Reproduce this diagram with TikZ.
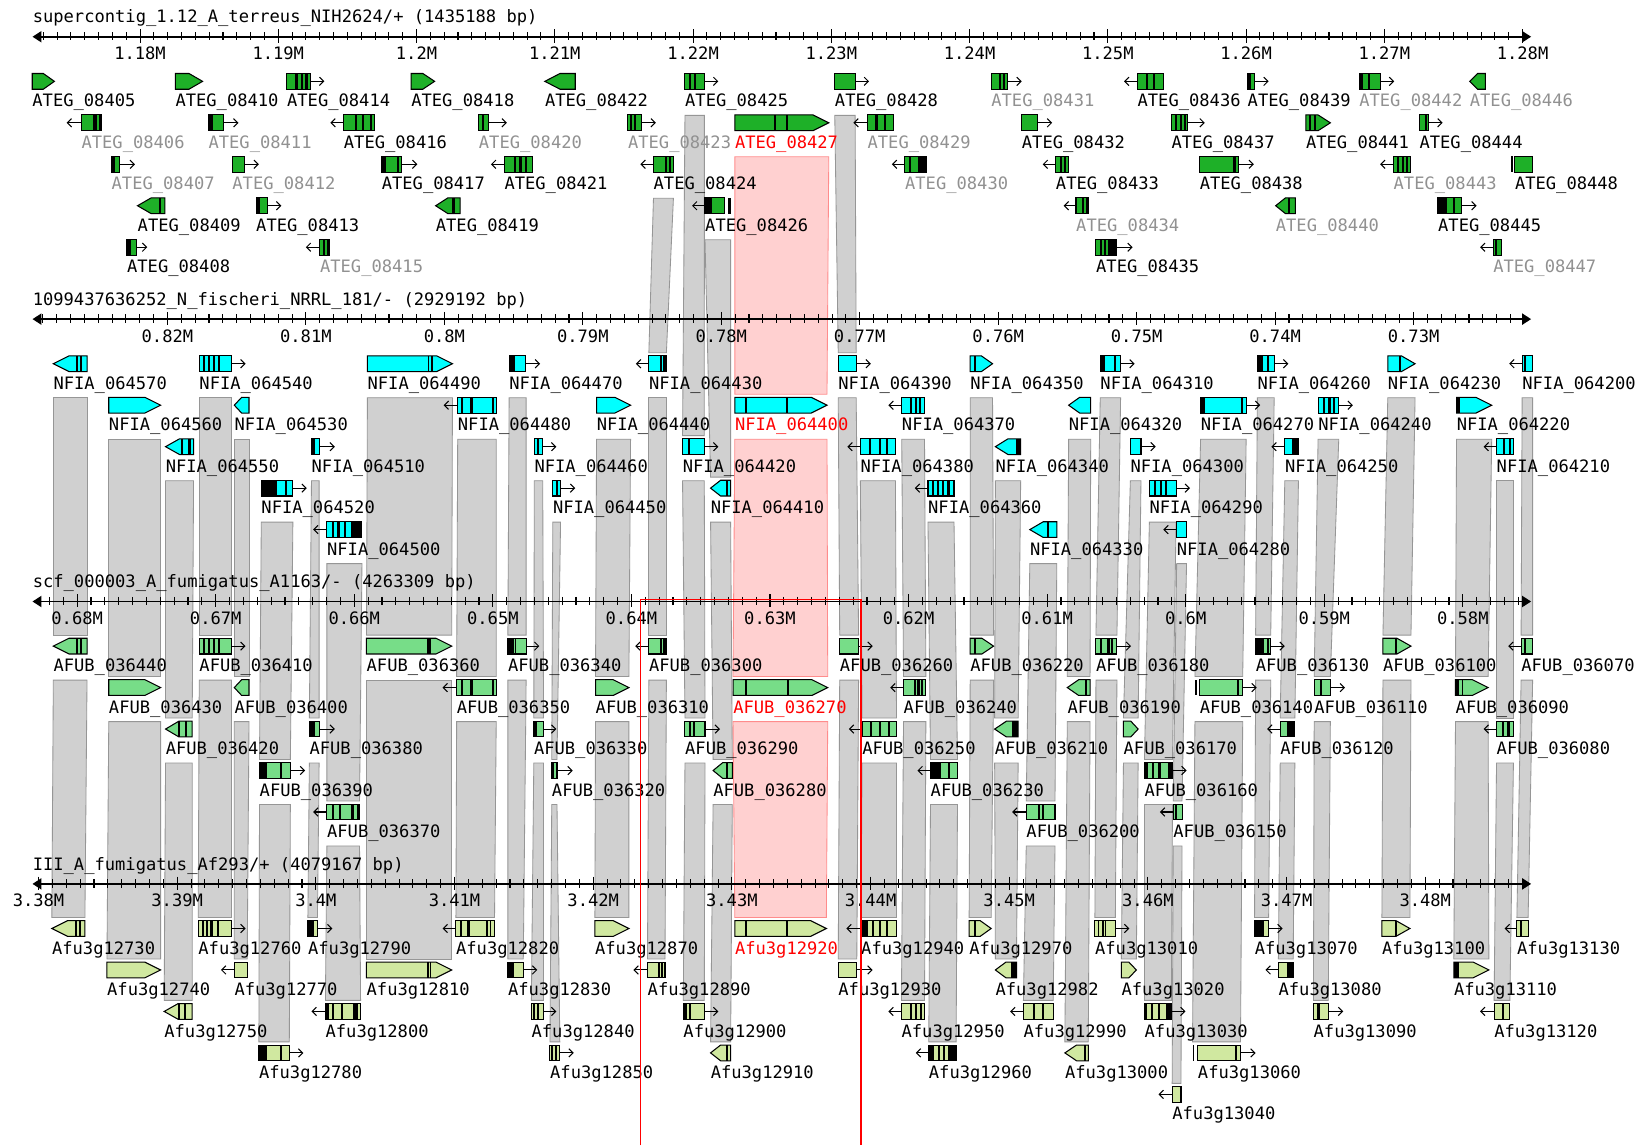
\documentclass[tikz,border=0pt]{standalone}
\usepackage{fontspec}
\setmainfont{DejaVu Sans Mono}
\usetikzlibrary{arrows.meta}
\definecolor{trk0}{RGB}{30,176,40}
\definecolor{trk1}{RGB}{0,255,255}
\definecolor{trk2}{RGB}{119,221,136}
\definecolor{trk3}{RGB}{208,232,160}
\definecolor{bandgray}{RGB}{208,208,208}
\definecolor{bandedge}{RGB}{150,150,150}
\definecolor{pinkf}{RGB}{255,208,208}
\definecolor{pinke}{RGB}{255,140,140}
\definecolor{lblgray}{RGB}{145,145,145}
\tikzset{
  lbl/.style={font=\fontsize{16.3}{18}\selectfont, anchor=base west, inner sep=0pt, text=black},
  lg/.style={text=lblgray},
  lr/.style={text=red},
  ttl/.style={font=\fontsize{16.3}{18}\selectfont, anchor=base west, inner sep=0pt},
  tkl/.style={font=\fontsize{16.3}{18}\selectfont, anchor=base, inner sep=0pt},
  gline/.style={draw=black, line width=1pt},
  garrow/.style={draw=black, line width=1pt, -{Straight Barb[length=4pt,width=8pt]}},
  axisline/.style={draw=black, line width=1.5pt},
  tickline/.style={draw=black, line width=1pt},
  band/.style={fill=bandgray, draw=bandedge, line width=0.8pt},
  pband/.style={fill=pinkf, draw=pinke, line width=0.8pt},
  redbox/.style={draw=red, line width=1.5pt}
}
\newcommand\ggBars[1]{\if\relax\detokenize{#1}\relax\else
  \foreach \ba/\bb in {#1}{\fill[black] (\ba,\gYc-7.5) rectangle (\bb,\gYc+7.5);}\fi}
\newcommand\ggLabel[3]{\node[lbl,#3] (#2) at (#1,\gYc+24.4) {#2};}
% pointed right: t r x1 x2 bars label style
\newcommand\ggR[7]{%
  \pgfmathsetmacro\gYc{77.5+269*#1+39.5*#2}%
  \pgfmathsetmacro\gPc{min(15,(#4-#3)/2)}%
  \fill[trk#1] (#3,\gYc-7.5) -- (#4-\gPc,\gYc-7.5) -- (#4,\gYc) -- (#4-\gPc,\gYc+7.5) -- (#3,\gYc+7.5) -- cycle;
  \ggBars{#5}%
  \draw[gline] (#3,\gYc-7.5) -- (#4-\gPc,\gYc-7.5) -- (#4,\gYc) -- (#4-\gPc,\gYc+7.5) -- (#3,\gYc+7.5) -- cycle;
  \ggLabel{#3}{#6}{#7}}
% pointed left
\newcommand\ggL[7]{%
  \pgfmathsetmacro\gYc{77.5+269*#1+39.5*#2}%
  \pgfmathsetmacro\gPc{min(15,(#4-#3)/2)}%
  \fill[trk#1] (#4,\gYc-7.5) -- (#3+\gPc,\gYc-7.5) -- (#3,\gYc) -- (#3+\gPc,\gYc+7.5) -- (#4,\gYc+7.5) -- cycle;
  \ggBars{#5}%
  \draw[gline] (#4,\gYc-7.5) -- (#3+\gPc,\gYc-7.5) -- (#3,\gYc) -- (#3+\gPc,\gYc+7.5) -- (#4,\gYc+7.5) -- cycle;
  \ggLabel{#3}{#6}{#7}}
% box + arrow right: t r x1 x2 xtip bars label style
\newcommand\ggAR[8]{%
  \pgfmathsetmacro\gYc{77.5+269*#1+39.5*#2}%
  \draw[garrow] (#4,\gYc) -- (#5,\gYc);
  \fill[trk#1] (#3,\gYc-7.5) rectangle (#4,\gYc+7.5);
  \ggBars{#6}%
  \draw[gline] (#3,\gYc-7.5) rectangle (#4,\gYc+7.5);
  \ggLabel{#3}{#7}{#8}}
% arrow left + box: t r xtip x1 x2 bars label style
\newcommand\ggAL[8]{%
  \pgfmathsetmacro\gYc{77.5+269*#1+39.5*#2}%
  \draw[garrow] (#4,\gYc) -- (#3,\gYc);
  \fill[trk#1] (#4,\gYc-7.5) rectangle (#5,\gYc+7.5);
  \ggBars{#6}%
  \draw[gline] (#4,\gYc-7.5) rectangle (#5,\gYc+7.5);
  \ggLabel{#4}{#7}{#8}}
% plain box
\newcommand\ggBX[7]{%
  \pgfmathsetmacro\gYc{77.5+269*#1+39.5*#2}%
  \fill[trk#1] (#3,\gYc-7.5) rectangle (#4,\gYc+7.5);
  \ggBars{#5}%
  \draw[gline] (#3,\gYc-7.5) rectangle (#4,\gYc+7.5);
  \ggLabel{#3}{#6}{#7}}
% band: x1 x2 t r x3 x4 r2
\newcommand\ggBand[7]{%
  \pgfmathsetmacro\bTc{109.9+269*#3+39.5*#4}%
  \pgfmathsetmacro\bBc{67+269*(#3+1)+39.5*#7}%
  \filldraw[band] (#1,\bTc) -- (#2,\bTc) -- (#6,\bBc) -- (#5,\bBc) -- cycle;}
\newcommand\ggPink[7]{%
  \pgfmathsetmacro\bTc{109.9+269*#3+39.5*#4}%
  \pgfmathsetmacro\bBc{67+269*(#3+1)+39.5*#7}%
  \filldraw[pband] (#1,\bTc) -- (#2,\bTc) -- (#6,\bBc) -- (#5,\bBc) -- cycle;}
% ruler: t x0 sp title labels
\newcommand\ggRuler[5]{%
  \pgfmathsetmacro\aYc{35+269*#1}%
  \node[ttl] (title#1) at (31,{21.8+269*#1}) {#4};
  \draw[axisline] (38,\aYc) -- (1451,\aYc);
  \fill (31,\aYc) -- (39.5,\aYc-5.5) -- (39.5,\aYc+5.5) -- cycle;
  \fill (1458.5,\aYc) -- (1450,\aYc-5.5) -- (1450,\aYc+5.5) -- cycle;
  \foreach \j in {-10,...,110}{%
    \pgfmathsetmacro\xx{#2+#3*(\j)/10}%
    \ifdim\xx pt>38pt\relax\ifdim\xx pt<1451pt\relax
      \draw[tickline] (\xx,\aYc-4.5) -- (\xx,\aYc+3.5);
    \fi\fi}
  \foreach \k/\lab in {#5}{%
    \pgfmathsetmacro\xx{#2+#3*\k}%
    \draw[tickline] (\xx,\aYc-7) -- (\xx,\aYc+5.5);
    \node[tkl] (tk#1-\k) at (\xx,\aYc+21.8) {\lab};}
}
\begin{document}
\catcode`\_=12
\begin{tikzpicture}[x=1pt,y=-1pt]
\useasboundingbox (0,0) rectangle (1568,1091);
\fill[white] (0,0) rectangle (1568,1091);

% ---------------- bands track 0 -> 1
\ggBand{622.5}{641.5}{0}{2}{618.1}{634.8}{0}
\ggBand{652.5}{671}{0}{0}{650.2}{670.9}{2}
\ggBand{671.6}{696}{0}{3}{676.9}{696}{3}
\ggBand{795.2}{814.6}{0}{0}{798.5}{815.6}{0}
\ggPink{700}{789.5}{0}{1}{700}{787.8}{1}
% ---------------- bands track 1 -> 2
\ggBand{50.8}{82.9}{1}{0}{50.8}{82.9}{0}
\ggBand{189.8}{220.5}{1}{0}{189.8}{220.5}{0}
\ggBand{350}{431}{1}{0}{349.1}{430.3}{0}
\ggBand{485}{501.2}{1}{0}{483.8}{501.2}{0}
\ggBand{618.1}{634.8}{1}{0}{618.1}{634.8}{0}
\ggBand{798.5}{815.6}{1}{0}{799.9}{817.9}{0}
\ggBand{924.2}{945.5}{1}{0}{924.2}{946.5}{0}
\ggBand{1048.1}{1067.5}{1}{0}{1044}{1064}{0}
\ggBand{1197.8}{1213.8}{1}{0}{1196.1}{1210.5}{0}
\ggBand{1322}{1348}{1}{0}{1317.4}{1344.1}{0}
\ggBand{1450}{1460}{1}{0}{1449}{1460}{0}
\ggBand{103.6}{153}{1}{1}{103.6}{153}{1}
\ggBand{223.2}{237.2}{1}{1}{223.2}{237.2}{1}
\ggBand{436}{472.7}{1}{1}{435}{472.7}{1}
\ggBand{568.3}{600.7}{1}{1}{567.3}{599.1}{1}
\ggPink{700}{787.8}{1}{1}{698.3}{788.5}{1}
\ggBand{859}{880.7}{1}{1}{860.7}{882}{1}
\ggBand{1018}{1039}{1}{1}{1016.7}{1038.4}{1}
\ggBand{1143.7}{1187.1}{1}{1}{1138.3}{1183.8}{1}
\ggBand{1255.6}{1275.3}{1}{1}{1251.9}{1267.3}{1}
\ggBand{1387.5}{1421}{1}{1}{1386.5}{1417.6}{1}
\ggBand{157.7}{184.4}{1}{2}{157.7}{183.1}{2}
\ggBand{296.7}{304}{1}{2}{294.7}{304}{2}
\ggBand{509}{517}{1}{2}{508.5}{517.8}{2}
\ggBand{650.2}{670.9}{1}{2}{652.5}{671.6}{2}
\ggBand{819.6}{853}{1}{2}{821.2}{854}{2}
\ggBand{948.2}{972.3}{1}{2}{947.5}{969.9}{2}
\ggBand{1076.8}{1086.9}{1}{2}{1070.2}{1084.2}{2}
\ggBand{1223.9}{1236.9}{1}{2}{1219.5}{1233.5}{2}
\ggBand{1425.6}{1441.7}{1}{2}{1425.6}{1441.7}{2}
\ggBand{248.9}{279}{1}{3}{247.2}{276.6}{3}
\ggBand{526.6}{534}{1}{3}{525.6}{530.6}{3}
\ggBand{676.9}{696}{1}{3}{679.3}{697.6}{3}
\ggBand{884}{908.8}{1}{3}{886.4}{912.1}{3}
\ggBand{1094.9}{1120.3}{1}{3}{1090.2}{1116.9}{3}
\ggBand{311.4}{344.8}{1}{4}{311.4}{342.5}{4}
\ggBand{981}{1006.7}{1}{4}{977.6}{1005}{4}
\ggBand{1120.9}{1130.3}{1}{4}{1117.6}{1126}{4}
% ---------------- bands track 2 -> 3
\ggBand{50.8}{82.9}{2}{0}{49.4}{80.9}{0}
\ggBand{189.8}{220.5}{2}{0}{188.8}{220.5}{0}
\ggBand{349.1}{430.3}{2}{0}{349.1}{430.3}{1}
\ggBand{483.8}{501.2}{2}{0}{483.8}{498.5}{1}
\ggBand{618.1}{634.8}{2}{0}{616.8}{633.5}{1}
\ggBand{799.9}{817.9}{2}{0}{798.5}{816.2}{1}
\ggBand{924.2}{946.5}{2}{0}{923.2}{944.2}{0}
\ggBand{1044}{1064}{2}{0}{1043}{1062.5}{0}
\ggBand{1196.1}{1210.5}{2}{0}{1195.1}{1208.5}{0}
\ggBand{1317.4}{1344.1}{2}{0}{1316.4}{1343.1}{0}
\ggBand{1449}{1460}{2}{0}{1445}{1455.7}{0}
\ggBand{103.6}{153}{2}{1}{101.9}{153}{1}
\ggBand{223.2}{237.2}{2}{1}{223.2}{235.5}{1}
\ggBand{435}{472.7}{2}{1}{434.3}{471.1}{0}
\ggBand{567.3}{599.1}{2}{1}{566.7}{599.1}{0}
\ggPink{698.3}{788.5}{2}{1}{700}{787.2}{0}
\ggBand{860.7}{882}{2}{1}{858.7}{880.7}{2}
\ggBand{1016.7}{1038.4}{2}{1}{1014.4}{1036.7}{3}
\ggBand{1138.3}{1183.8}{2}{1}{1136}{1181.7}{3}
\ggBand{1251.9}{1267.3}{2}{1}{1251.2}{1265.3}{2}
\ggBand{1386.5}{1417.6}{2}{1}{1384.9}{1418.3}{1}
\ggBand{157.7}{183.1}{2}{2}{156.4}{183.1}{2}
\ggBand{294.7}{304}{2}{2}{293.3}{302.4}{0}
\ggBand{508.5}{517.8}{2}{2}{506.2}{517.8}{2}
\ggBand{652.5}{671.6}{2}{2}{650.9}{670.9}{2}
\ggBand{821.2}{854}{2}{2}{820.2}{854}{0}
\ggBand{947.5}{969.9}{2}{2}{948.2}{968.3}{1}
\ggBand{1070.2}{1084.2}{2}{2}{1068.2}{1082.5}{1}
\ggBand{1219.5}{1233.5}{2}{2}{1217.8}{1231.9}{1}
\ggBand{1425.6}{1441.7}{2}{2}{1423.3}{1438.3}{2}
\ggBand{247.2}{276.6}{2}{3}{246.6}{275.6}{3}
\ggBand{525.6}{530.6}{2}{3}{523.9}{533.3}{3}
\ggBand{679.3}{697.6}{2}{3}{676.9}{696}{3}
\ggBand{886.4}{912.1}{2}{3}{884.7}{910.8}{3}
\ggBand{1090.2}{1116.9}{2}{3}{1090.2}{1115.9}{2}
\ggBand{311.4}{342.5}{2}{4}{310}{343.5}{2}
\ggBand{977.6}{1005}{2}{4}{974.9}{1003.3}{2}
\ggBand{1117.6}{1126}{2}{4}{1116.6}{1125}{4}

% ---------------- rulers
\ggRuler{0}{133.4}{131.7}{supercontig_1.12_A_terreus_NIH2624/+ (1435188 bp)}{0/1.18M,1/1.19M,2/1.2M,3/1.21M,4/1.22M,5/1.23M,6/1.24M,7/1.25M,8/1.26M,9/1.27M,10/1.28M}
\ggRuler{1}{159.5}{131.9}{1099437636252_N_fischeri_NRRL_181/- (2929192 bp)}{0/0.82M,1/0.81M,2/0.8M,3/0.79M,4/0.78M,5/0.77M,6/0.76M,7/0.75M,8/0.74M,9/0.73M}
\ggRuler{2}{73.5}{132}{scf_000003_A_fumigatus_A1163/- (4263309 bp)}{0/0.68M,1/0.67M,2/0.66M,3/0.65M,4/0.64M,5/0.63M,6/0.62M,7/0.61M,8/0.6M,9/0.59M,10/0.58M}
\ggRuler{3}{36.7}{132.1}{III_A_fumigatus_Af293/+ (4079167 bp)}{0/3.38M,1/3.39M,2/3.4M,3/3.41M,4/3.42M,5/3.43M,6/3.44M,7/3.45M,8/3.46M,9/3.47M,10/3.48M}

% ---------------- track 0: ATEG
\ggR{0}{0}{30.7}{51.8}{}{ATEG_08405}{}
\ggR{0}{0}{167}{193}{}{ATEG_08410}{}
\ggAR{0}{0}{273.3}{296}{309}{281/284,287/289,291/293}{ATEG_08414}{}
\ggR{0}{0}{391.6}{414}{}{ATEG_08418}{}
\ggL{0}{0}{519}{548}{}{ATEG_08422}{}
\ggAR{0}{0}{652.5}{671}{684.3}{656/658,661/663}{ATEG_08425}{}
\ggAR{0}{0}{795.2}{814.6}{827.9}{}{ATEG_08428}{}
\ggAR{0}{0}{944.2}{960}{973.3}{952/954,955.5/957.5}{ATEG_08431}{lg}
\ggAL{0}{0}{1070.8}{1083.5}{1108.6}{1091.5/1093.5,1098/1100}{ATEG_08436}{}
\ggAR{0}{0}{1188.4}{1195.1}{1208.5}{1188.4/1191.8}{ATEG_08439}{}
\ggAR{0}{0}{1294.7}{1315.4}{1328.1}{1294.7/1298,1303/1305}{ATEG_08442}{lg}
\ggL{0}{0}{1400}{1415}{}{ATEG_08446}{lg}

\ggAL{0}{1}{63.5}{77.5}{96.2}{88.5/92,94/96.2}{ATEG_08406}{lg}
\ggAR{0}{1}{198.5}{212.8}{227.2}{198.5/202.5}{ATEG_08411}{lg}
\ggAL{0}{1}{314.7}{327.4}{356.8}{338.5/340.5,344.5/346.5,352/354}{ATEG_08416}{}
\ggAR{0}{1}{456}{465.4}{482.8}{459.5/461.5}{ATEG_08420}{lg}
\ggAR{0}{1}{598.1}{610.8}{624.8}{600/602,603.5/605.5}{ATEG_08423}{lg}
\ggR{0}{1}{700}{789.5}{737.5/739.5,748.5/750.5}{ATEG_08427}{lr}
\ggAL{0}{1}{812.9}{826.3}{851.3}{834/836,842/844}{ATEG_08429}{lg}
\ggAR{0}{1}{973.3}{988.3}{1002.3}{}{ATEG_08432}{}
\ggAR{0}{1}{1115.9}{1131.6}{1147.7}{1119.5/1121.5,1124/1126,1127.5/1129.5}{ATEG_08437}{}
\ggR{0}{1}{1243.9}{1267.3}{1247/1248.5,1252/1253.5}{ATEG_08441}{}
\ggAR{0}{1}{1352.1}{1360.8}{1374.2}{1357.5/1359.5}{ATEG_08444}{}

\ggAR{0}{2}{106.2}{113.6}{128.6}{106.2/109.6}{ATEG_08407}{lg}
\ggAR{0}{2}{221.2}{232.9}{246.6}{}{ATEG_08412}{lg}
\ggAR{0}{2}{363.5}{382.5}{397.6}{363.5/367.5,378.5/380.5}{ATEG_08417}{}
\ggAL{0}{2}{467.7}{480.4}{507.2}{489.5/491.5,494/497,500/502}{ATEG_08421}{}
\ggAL{0}{2}{610.1}{622.5}{641.5}{633.5/635.5,637.5/639.5}{ATEG_08424}{}
\ggAL{0}{2}{849.6}{862}{883}{865.5/867.5,874.7/883}{ATEG_08430}{lg}
\ggAL{0}{2}{993.3}{1005.7}{1018.3}{1010/1012,1013.5/1015.5}{ATEG_08433}{}
\ggAR{0}{2}{1142.7}{1179.4}{1194.5}{1175/1177}{ATEG_08438}{}
\ggAL{0}{2}{1314.7}{1327.4}{1343.8}{1331/1333,1335.5/1337.5,1339/1341}{ATEG_08443}{lg}
\ggBX{0}{2}{1443}{1460}{1439.5/1441.5}{ATEG_08448}{}

\ggL{0}{3}{131}{157}{151/153}{ATEG_08409}{}
\ggAR{0}{3}{243.9}{254.6}{268}{243.9/248}{ATEG_08413}{}
\ggL{0}{3}{415}{438.3}{431/433}{ATEG_08419}{}
\ggAL{0}{3}{659.2}{671.6}{690}{671.6/678.3,693.5/696}{ATEG_08426}{}
\ggAL{0}{3}{1013.3}{1025}{1036.7}{1031/1033,1034.5/1036.7}{ATEG_08434}{lg}
\ggL{0}{3}{1215.2}{1233.9}{1227/1229}{ATEG_08440}{lg}
\ggAR{0}{3}{1369.8}{1392.2}{1406.6}{1369.8/1378,1384/1386}{ATEG_08445}{}

\ggAR{0}{4}{120.9}{129.6}{140.3}{120.9/124.4}{ATEG_08408}{}
\ggAL{0}{4}{291.3}{304.7}{314}{308/310,311.5/313}{ATEG_08415}{lg}
\ggAR{0}{4}{1044}{1064}{1079}{1048/1050,1052/1054,1055.8/1064}{ATEG_08435}{}
\ggAL{0}{4}{1409.9}{1422.3}{1430}{1424.5/1426.5}{ATEG_08447}{lg}

% ---------------- track 1: NFIA
\ggL{1}{0}{50.8}{82.9}{72.5/74.5,76.5/78.5}{NFIA_064570}{}
\ggAR{1}{0}{189.8}{220.5}{233.9}{193.5/195.5,198/200,203/205,207.5/209.5}{NFIA_064540}{}
\ggR{1}{0}{350}{431}{407.5/409,410.5/412}{NFIA_064490}{}
\ggAR{1}{0}{485}{501}{514.5}{485/490.5}{NFIA_064470}{}
\ggAL{1}{0}{605.8}{618.1}{634.8}{628.5/630.5,632/634}{NFIA_064430}{}
\ggAR{1}{0}{798.5}{815.6}{829.6}{}{NFIA_064390}{}
\ggR{1}{0}{924.2}{945.5}{927.5/929.5}{NFIA_064350}{}
\ggAR{1}{0}{1048.1}{1067.5}{1080.9}{1048.1/1052.5,1061.5/1063.5}{NFIA_064310}{}
\ggAR{1}{0}{1197.8}{1213.8}{1227.2}{1197.8/1203,1207/1209}{NFIA_064260}{}
\ggR{1}{0}{1322}{1348}{1333/1335}{NFIA_064230}{}
\ggAL{1}{0}{1437.7}{1450}{1460}{1451.5/1453.5}{NFIA_064200}{}

\ggR{1}{1}{103.6}{153}{}{NFIA_064560}{}
\ggL{1}{1}{223.2}{237.2}{}{NFIA_064530}{}
\ggAL{1}{1}{422.6}{436}{472.7}{439.5/441.5,448/451,468.5/470.5}{NFIA_064480}{}
\ggR{1}{1}{568.3}{600.7}{}{NFIA_064440}{}
\ggR{1}{1}{700}{787.8}{709.5/711.5,748.5/750.5}{NFIA_064400}{lr}
\ggAL{1}{1}{846.3}{859}{880.7}{867/869,872/874,875.5/877.5}{NFIA_064370}{}
\ggL{1}{1}{1018}{1039}{}{NFIA_064320}{}
\ggAR{1}{1}{1143.7}{1187.1}{1200.5}{1143.7/1147.7,1182/1184}{NFIA_064270}{}
\ggAR{1}{1}{1255.6}{1275.3}{1288.7}{1260.5/1262.5,1265.5/1267.5,1270/1272}{NFIA_064240}{}
\ggR{1}{1}{1387.5}{1421}{1387.5/1390.8}{NFIA_064220}{}

\ggL{1}{2}{157.7}{184.4}{172.7/174.7,179.5/181.5}{NFIA_064550}{}
\ggAR{1}{2}{296.7}{304}{319}{296.7/300}{NFIA_064510}{}
\ggAR{1}{2}{509}{517}{530}{511.5/513.5}{NFIA_064460}{}
\ggAR{1}{2}{650.2}{670.9}{684.3}{655.5/657.5}{NFIA_064420}{}
\ggAL{1}{2}{807.2}{819.6}{853}{828/830,837/839,844/846}{NFIA_064380}{}
\ggL{1}{2}{948.2}{972.3}{967.6/972.3}{NFIA_064340}{}
\ggAR{1}{2}{1076.8}{1086.9}{1100.9}{}{NFIA_064300}{}
\ggAL{1}{2}{1211.1}{1223.9}{1236.9}{1230.5/1236.9}{NFIA_064250}{}
\ggAL{1}{2}{1413.3}{1425.6}{1441.7}{1431.5/1433.5,1437/1439}{NFIA_064210}{}

\ggAR{1}{3}{248.9}{279}{292.3}{248.9/264,271.5/273.5}{NFIA_064520}{}
\ggAR{1}{3}{526.6}{534}{548}{529.5/531.5}{NFIA_064450}{}
\ggL{1}{3}{676.9}{696}{691.5/693.5}{NFIA_064410}{}
\ggAL{1}{3}{871.4}{884}{908.8}{887.5/889.5,892.5/894.5,897.5/899.5,902.5/904.5}{NFIA_064360}{}
\ggAR{1}{3}{1094.9}{1120.3}{1133.6}{1099.5/1101.5,1105/1107,1109.5/1111.5}{NFIA_064290}{}

\ggAL{1}{4}{298.3}{311.4}{344.8}{316/318,321.5/323.5,328/330,334/344.8}{NFIA_064500}{}
\ggL{1}{4}{981}{1006.7}{997.5/999.5}{NFIA_064330}{}
\ggAL{1}{4}{1108.2}{1120.9}{1130.3}{}{NFIA_064280}{}

% ---------------- track 2: AFUB
\ggL{2}{0}{50.8}{82.9}{72.5/74.5,76.5/78.5}{AFUB_036440}{}
\ggAR{2}{0}{189.8}{220.5}{233.9}{193.5/195.5,198/200,203/205,207.5/209.5}{AFUB_036410}{}
\ggR{2}{0}{349.1}{430.3}{406.9/410.3}{AFUB_036360}{}
\ggAR{2}{0}{483.8}{501.2}{513.8}{483.8/489.5,490.5/492}{AFUB_036340}{}
\ggAL{2}{0}{605.1}{618.1}{634.8}{628.5/630.5,632/634}{AFUB_036300}{}
\ggAR{2}{0}{799.9}{817.9}{831.3}{}{AFUB_036260}{}
\ggR{2}{0}{924.2}{946.5}{927.5/929.5}{AFUB_036220}{}
\ggAR{2}{0}{1044}{1064}{1077.5}{1048/1050,1055/1057,1058.5/1060.5}{AFUB_036180}{}
\ggAR{2}{0}{1196.1}{1210.5}{1223.9}{1196.1/1203.8,1207/1209}{AFUB_036130}{}
\ggR{2}{0}{1317.4}{1344.1}{1329/1331}{AFUB_036100}{}
\ggAL{2}{0}{1436.7}{1449}{1460}{1451.5/1453.5}{AFUB_036070}{}

\ggR{2}{1}{103.6}{153}{}{AFUB_036430}{}
\ggL{2}{1}{223.2}{237.2}{}{AFUB_036400}{}
\ggAL{2}{1}{421.6}{435}{472.7}{439.5/441.5,448/451,468.5/470.5}{AFUB_036350}{}
\ggR{2}{1}{567.3}{599.1}{}{AFUB_036310}{}
\ggR{2}{1}{698.3}{788.5}{709.5/711.5,750/752}{AFUB_036270}{lr}
\ggAL{2}{1}{848}{860.7}{882}{870.5/872.5,874/876,877.5/879.5}{AFUB_036240}{}
\ggL{2}{1}{1016.7}{1038.4}{1033.5/1035.5}{AFUB_036190}{}
\ggAR{2}{1}{1142.7}{1183.8}{1197.1}{1138.3/1140,1178.5/1180.5}{AFUB_036140}{}
\ggAR{2}{1}{1251.9}{1267.3}{1281.3}{1257/1259}{AFUB_036110}{}
\ggR{2}{1}{1386.5}{1417.6}{1386.5/1390,1392.5/1394}{AFUB_036090}{}

\ggL{2}{2}{157.7}{183.1}{169.5/171.5,176/178}{AFUB_036420}{}
\ggAR{2}{2}{294.7}{304}{319}{294.7/300}{AFUB_036380}{}
\ggAR{2}{2}{508.5}{517.8}{530}{508.5/512}{AFUB_036330}{}
\ggAR{2}{2}{652.5}{671.6}{685.9}{656.5/658.5,660/662}{AFUB_036290}{}
\ggAL{2}{2}{808.6}{821.2}{854}{829/831,837/839,845.5/847.5}{AFUB_036250}{}
\ggL{2}{2}{947.5}{969.9}{964.2/969.9}{AFUB_036210}{}
\ggR{2}{2}{1070.2}{1084.2}{}{AFUB_036170}{}
\ggAL{2}{2}{1207.1}{1219.5}{1233.5}{1226.2/1233.5}{AFUB_036120}{}
\ggAL{2}{2}{1413.3}{1425.6}{1441.7}{1431/1433,1436/1438}{AFUB_036080}{}

\ggAR{2}{3}{247.2}{276.6}{290.7}{247.2/254,266.5/268.5}{AFUB_036390}{}
\ggAR{2}{3}{525.6}{530.6}{545.6}{525.6/528}{AFUB_036320}{}
\ggL{2}{3}{679.3}{697.6}{691.5/693.5}{AFUB_036280}{}
\ggAL{2}{3}{874}{886.4}{912.1}{886.4/896.5,903/905}{AFUB_036230}{}
\ggAR{2}{3}{1090.2}{1116.9}{1130.3}{1090.2/1093.5,1097.5/1099.5,1103.5/1105.5,1112.6/1116.9}{AFUB_036160}{}

\ggAL{2}{4}{298.3}{311.4}{342.5}{316.5/318.5,323/325,334/337.5,340/342}{AFUB_036370}{}
\ggAL{2}{4}{964.2}{977.6}{1005}{989/991,992.5/994.5}{AFUB_036200}{}
\ggAL{2}{4}{1104.9}{1117.6}{1126}{1119.5/1121.5}{AFUB_036150}{}

% ---------------- track 3: Afu3g
\ggL{3}{0}{49.4}{80.9}{71/73,75.5/77.5}{Afu3g12730}{}
\ggAR{3}{0}{188.8}{220.5}{233.9}{192.5/194.5,196.5/198.5,200.5/202.5,206.5/208.5}{Afu3g12760}{}
\ggAR{3}{0}{293.3}{302.4}{316.7}{293.3/299}{Afu3g12790}{}
\ggAL{3}{0}{421.6}{434.3}{471.1}{438.5/440.5,445/448,463/465,466.5/468}{Afu3g12820}{}
\ggR{3}{0}{566.7}{599.1}{}{Afu3g12870}{}
\ggR{3}{0}{700}{787.2}{709.5/711.5,748.5/750.5}{Afu3g12920}{lr}
\ggAL{3}{0}{806.2}{820.2}{854}{820.2/827,830.5/832.5,837/839,844/846}{Afu3g12940}{}
\ggR{3}{0}{923.2}{944.2}{927.5/929.5}{Afu3g12970}{}
\ggAR{3}{0}{1043}{1062.5}{1075.8}{1045.5/1047,1049.5/1051.5,1052.5/1054}{Afu3g13010}{}
\ggAR{3}{0}{1195.1}{1208.5}{1221.8}{1195.1/1203.8}{Afu3g13070}{}
\ggR{3}{0}{1316.4}{1343.1}{1329/1331}{Afu3g13100}{}
\ggAL{3}{0}{1433.3}{1445}{1455.7}{1448/1450}{Afu3g13130}{}

\ggR{3}{1}{101.9}{153}{}{Afu3g12740}{}
\ggAL{3}{1}{210.5}{223.2}{235.5}{}{Afu3g12770}{}
\ggR{3}{1}{349.1}{430.3}{406.5/408.5,409.5/411}{Afu3g12810}{}
\ggAR{3}{1}{483.8}{498.5}{511.8}{483.8/489.5}{Afu3g12830}{}
\ggAL{3}{1}{603.4}{616.8}{633.5}{627/629,630/632}{Afu3g12890}{}
\ggAR{3}{1}{798.5}{816.2}{831.3}{}{Afu3g12930}{}
\ggL{3}{1}{948.2}{968.3}{963.2/968.3}{Afu3g12982}{}
\ggR{3}{1}{1068.2}{1082.5}{}{Afu3g13020}{}
\ggAL{3}{1}{1205.5}{1217.8}{1231.9}{1226.2/1231.9}{Afu3g13080}{}
\ggR{3}{1}{1384.9}{1418.3}{1384.9/1389.9}{Afu3g13110}{}

\ggL{3}{2}{156.4}{183.1}{169.5/171.5,175.5/177.5}{Afu3g12750}{}
\ggAL{3}{2}{296.7}{310}{343.5}{310/313,316/318,325/327,335.8/340.8}{Afu3g12800}{}
\ggAR{3}{2}{506.2}{517.8}{530}{508/510,511.5/513.5}{Afu3g12840}{}
\ggAR{3}{2}{650.9}{670.9}{684.3}{650.9/654,656.5/658.5}{Afu3g12900}{}
\ggAL{3}{2}{846.3}{858.7}{880.7}{867/869,872/874,876.5/878.5}{Afu3g12950}{}
\ggAL{3}{2}{962.2}{974.9}{1003.3}{984/986,992.5/994.5}{Afu3g12990}{}
\ggAR{3}{2}{1090.2}{1115.9}{1129.3}{1090.2/1093,1096/1098,1103/1105,1110.3/1115.9}{Afu3g13030}{}
\ggAR{3}{2}{1251.2}{1265.3}{1279.6}{1255/1257}{Afu3g13090}{}
\ggAL{3}{2}{1409.9}{1423.3}{1438.3}{1430.5/1432.5}{Afu3g13120}{}

\ggAR{3}{3}{246.6}{275.6}{289}{246.6/254,266.5/268.5}{Afu3g12780}{}
\ggAR{3}{3}{523.9}{533.3}{546.6}{525/527,528.5/530.5}{Afu3g12850}{}
\ggL{3}{3}{676.9}{696}{691.5/693.5}{Afu3g12910}{}
\ggAL{3}{3}{872.4}{884.7}{910.8}{884.7/889.7,893.5/895.5,898.5/900.5,903/910.8}{Afu3g12960}{}
\ggL{3}{3}{1014.4}{1036.7}{1032.5/1034.5}{Afu3g13000}{}
\ggAR{3}{3}{1141}{1181.7}{1196.1}{1136/1137.8,1176.5/1178.5}{Afu3g13060}{}

\ggAL{3}{4}{1103.6}{1116.6}{1125}{}{Afu3g13040}{}

% ---------------- highlight frame
\coordinate (rbl) at (610.1,1091);
\coordinate (rtl) at (610.1,571);
\coordinate (rtr) at (820.2,571);
\coordinate (rbr) at (820.2,1091);
\draw[redbox] (rbl) -- (rtl) -- (rtr) -- (rbr);
\end{tikzpicture}
\end{document}
